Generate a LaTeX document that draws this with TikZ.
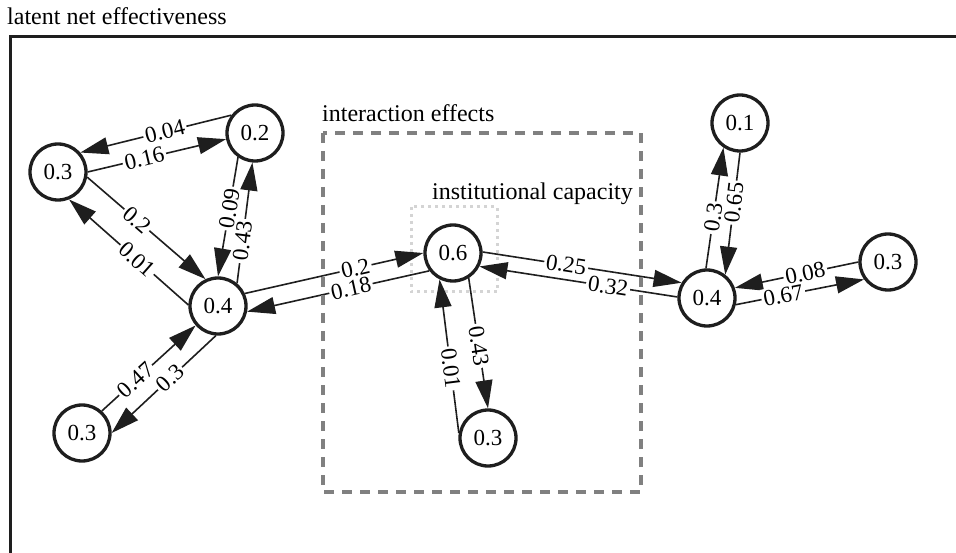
\documentclass[tikz,border=0pt]{standalone}
\usepackage{fontspec}
\setmainfont{Liberation Serif}
\usetikzlibrary{arrows.meta}
\definecolor{ink}{RGB}{30,30,30}
\definecolor{boxgray}{RGB}{128,128,128}
\definecolor{dotgray}{RGB}{212,212,212}
\tikzset{
  factor/.style={circle,draw=ink,line width=3.3pt,fill=white,minimum size=56pt,inner sep=0pt,font=\fontsize{23}{27}\selectfont},
  infl/.style={-{Triangle[length=28pt,width=17pt]},draw=ink,line width=1.6pt},
  wt/.style={sloped,fill=white,inner sep=2pt,pos=0.42,font=\fontsize{23}{27}\selectfont},
  group/.style={draw=boxgray,line width=3.5pt,dash pattern=on 10pt off 8pt},
  core/.style={draw=dotgray,line width=3pt,dash pattern=on 3pt off 4pt},
  frame/.style={draw=ink,line width=3pt},
  caption/.style={anchor=base west,inner sep=0pt,font=\fontsize{24}{28}\selectfont}
}

\begin{document}
\begin{tikzpicture}[x=1pt,y=-1pt]
  \useasboundingbox (0,0) rectangle (956,553);

  % outer frame and title
  \draw[frame] (10,560) -- (10,37) -- (960,37);
  \node[caption] (title) at (7,25) {latent net effectiveness};

  % inner group
  \draw[core] (411,207) rectangle (497,292);

  % factors
  \node[factor] (ul) at (58,172) {0.3};
  \node[factor] (um) at (255,133) {0.2};
  \node[factor] (hl) at (218,306) {0.4};
  \node[factor] (bl) at (82,433) {0.3};
  \node[factor] (ic) at (453,253) {0.6};
  \node[factor] (bm) at (488,438) {0.3};
  \node[factor] (ur) at (740,123) {0.1};
  \node[factor] (hr) at (707,298) {0.4};
  \node[factor] (rr) at (888,262) {0.3};

  % left cluster
  \draw[infl] (um.143) -- node[wt,pos=0.44]{0.04} (ul.41);
  \draw[infl] (ul.0) -- node[wt,pos=0.41]{0.16} (um.192);
  \draw[infl] (ul.-10) -- node[wt]{0.2} (hl.115);
  \draw[infl] (hl.178) -- node[wt,pos=0.43]{0.01} (ul.-68);
  \draw[infl] (um.235) -- node[wt,pos=0.43]{0.09} (hl.90);
  \draw[infl] (hl.50) -- node[wt,pos=0.35]{0.43} (um.265);
  \draw[infl] (bl.48) -- node[wt,pos=0.36]{0.47} (hl.221);
  \draw[infl] (hl.266) -- node[wt,pos=0.44]{0.3} (bl.0);

  % through the capacity node
  \draw[infl] (hl.25) -- node[wt,pos=0.62]{0.2} (ic.180);
  \draw[infl] (ic.217) -- node[wt,pos=0.43]{0.18} (hl.-11);
  \draw[infl] (ic.2) -- node[wt]{0.25} (hr.149);
  \draw[infl] (hr.178) -- node[wt,pos=0.35]{0.32} (ic.-27);
  \draw[infl] (ic.-58) -- node[wt,pos=0.52]{0.43} (bm.90);
  \draw[infl] (bm.170) -- node[wt]{0.01} (ic.-117);

  % right cluster
  \draw[infl] (hr.92) -- node[wt]{0.3} (ur.236);
  \draw[infl] (ur.270) -- node[wt,pos=0.41]{0.65} (hr.52);
  \draw[infl] (rr.180) -- node[wt,pos=0.43]{0.08} (hr.20);
  \draw[infl] (hr.-13) -- node[wt,pos=0.37]{0.67} (rr.216);

  % interaction group
  \draw[group] (323,133) rectangle (641,492);
  \node[caption] (inter) at (322,122) {interaction effects};
  \node[caption] (instcap) at (432,200) {institutional capacity};
\end{tikzpicture}
\end{document}
